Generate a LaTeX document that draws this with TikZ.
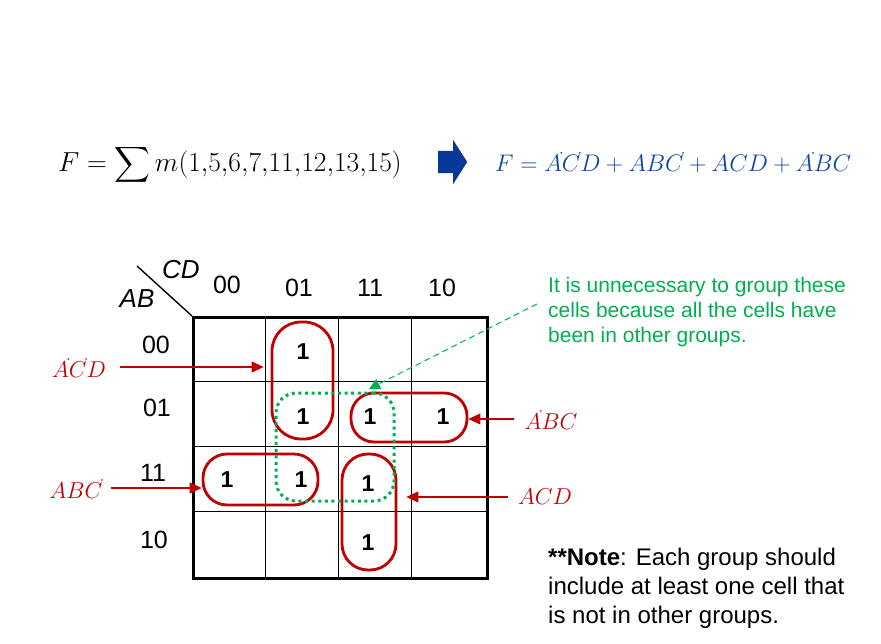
\documentclass[tikz,border=0pt]{standalone}
\usepackage{fix-cm}
\usepackage{amsmath}
\usepackage[no-math]{fontspec}
\setmainfont{Liberation Sans}
\usetikzlibrary{arrows.meta,positioning,shapes.arrows}
\definecolor{grpRed}{HTML}{C00000}
\definecolor{spareGreen}{HTML}{00B050}
\definecolor{eqBlue}{HTML}{1442A6}
\definecolor{arrowBlue}{HTML}{08399A}
\newcommand{\nt}[1]{#1\rlap{\raisebox{.62em}{$\scriptstyle\mkern-3mu\cdot$}}}
\tikzset{headLabel/.style={font=\fontsize{25}{30}\selectfont,inner sep=0pt}}
\tikzset{varLabel/.style={font=\fontsize{26}{30}\selectfont\itshape,inner sep=0pt}}
\tikzset{cellOne/.style={font=\fontsize{23}{28}\selectfont\bfseries,inner sep=0pt}}
\tikzset{grpLoop/.style={rectangle,rounded corners=#1,draw=grpRed,line width=2.8pt,inner sep=0pt},grpLoop/.default=24pt}
\tikzset{spareLoop/.style={rectangle,rounded corners=20pt,draw=spareGreen,line width=3pt,dash pattern=on 3pt off 3.6pt,inner sep=0pt}}
\tikzset{termLabel/.style={text=grpRed,font=\fontsize{23}{28}\selectfont,inner sep=2pt}}
\tikzset{termArrow/.style={draw=grpRed,line width=1.1pt,-{Triangle[length=12pt,width=11pt]}}}
\tikzset{hintArrow/.style={draw=spareGreen,line width=1pt,dash pattern=on 6pt off 4pt,-{Triangle[length=11pt,width=11pt]}}}
\tikzset{hintText/.style={text=spareGreen,font=\fontsize{21}{25}\selectfont,align=left,inner sep=0pt}}
\tikzset{noteText/.style={font=\fontsize{24}{29}\selectfont,align=left,inner sep=0pt}}
\tikzset{blockArrow/.style={single arrow,fill=arrowBlue,minimum height=29pt,inner xsep=0pt,inner ysep=11pt,single arrow head extend=11pt,single arrow tip angle=115}}
\begin{document}
\begin{tikzpicture}[x=1pt,y=-1pt]
\useasboundingbox (0,0) rectangle (881,644);
% the function and its minimal form
\node (sop) [anchor=base west,inner sep=0pt,font=\fontsize{27.5}{33}\selectfont] at (58,172) {$F=\displaystyle\sum m(1{,}5{,}6{,}7{,}11{,}12{,}13{,}15)$};
\node (impl) [blockArrow,anchor=tail] at (438,162) {};
\node (minsop) [anchor=base west,inner sep=0pt,text=eqBlue,font=\fontsize{24}{29}\selectfont] at (495,172) {$F=\nt{A}\nt{C}D+AB\nt{C}+ACD+\nt{A}BC$};
% the map
\node (kmap) [draw,line width=2.6pt,minimum width=294pt,minimum height=261pt,anchor=north west,inner sep=0pt] at (192,316) {};
\foreach \x in {265.5,338.5,411.5} \draw[line width=0.9pt] (\x,316) -- (\x,577);
\foreach \y in {381,446,511} \draw[line width=0.9pt] (192,\y) -- (486,\y);
\draw[line width=1.4pt] (kmap.north west) -- ++(-55,-50);
\node (cdVar) [varLabel] at (181,270) {CD};
\node (abVar) [varLabel] at (137,299) {AB};
\node (cd00) [headLabel] at (227,285) {00};
\node (cd01) [headLabel] at (299,288) {01};
\node (cd11) [headLabel] at (370,288) {11};
\node (cd10) [headLabel] at (442,288) {10};
\node (ab00) [headLabel] at (156,345) {00};
\node (ab01) [headLabel] at (157,408) {01};
\node (ab11) [headLabel] at (153,473) {11};
\node (ab10) [headLabel] at (154,540) {10};
% the ones
\node (m1) [cellOne] at (303,352) {1};
\node (m5) [cellOne] at (303,417) {1};
\node (m7) [cellOne] at (370,417) {1};
\node (m6) [cellOne] at (443,417) {1};
\node (m12) [cellOne] at (227,480) {1};
\node (m13) [cellOne] at (301,480) {1};
\node (m15) [cellOne] at (368,484) {1};
\node (m11) [cellOne] at (368,543) {1};
% groups
\node (grp1) [grpLoop=29pt,minimum width=61pt,minimum height=117pt] at (302.5,380.5) {};
\node (grp2) [grpLoop=23pt,minimum width=116pt,minimum height=49pt] at (409,417.5) {};
\node (grp3) [grpLoop=24pt,minimum width=115pt,minimum height=51pt] at (260.5,479.5) {};
\node (grp4) [grpLoop=26pt,minimum width=54pt,minimum height=116pt] at (369,512) {};
\node (spare) [spareLoop,minimum width=118pt,minimum height=108pt] at (335,447) {};
% terms
\node (tNotANotC) [termLabel] at (79,367) {$\nt{A}\nt{C}D$};
\node (tABNotC) [termLabel] at (76,488) {$AB\nt{C}$};
\node (tNotABC) [termLabel] at (551,419) {$\nt{A}BC$};
\node (tACD) [termLabel] at (545,497) {$ACD$};
\draw[termArrow,shorten <=12pt,shorten >=7pt] (tNotANotC.east) -- (tNotANotC.east -| grp1.west);
\draw[termArrow,shorten <=6pt] (tABNotC.east) -- (tABNotC.east -| grp3.west);
\draw[termArrow,shorten <=8pt] (tNotABC.west) -- (tNotABC.west -| grp2.east);
\draw[termArrow,shorten <=8pt,shorten >=9pt] (tACD.west) -- (tACD.west -| grp4.east);
% remarks
\node (hint) [hintText,anchor=north west] at (548,277) {It is unnecessary to group these\\cells because all the cells have\\been in other groups.};
\coordinate (hintEnd) at (369,389);
\draw[hintArrow] ([xshift=-11pt,yshift=8pt]hint.west) -- (hintEnd);
\node (note) [noteText,anchor=north west] at (548,548) {\textbf{**Note}: Each group should\\include at least one cell that\\is not in other groups.};
\end{tikzpicture}
\end{document}
